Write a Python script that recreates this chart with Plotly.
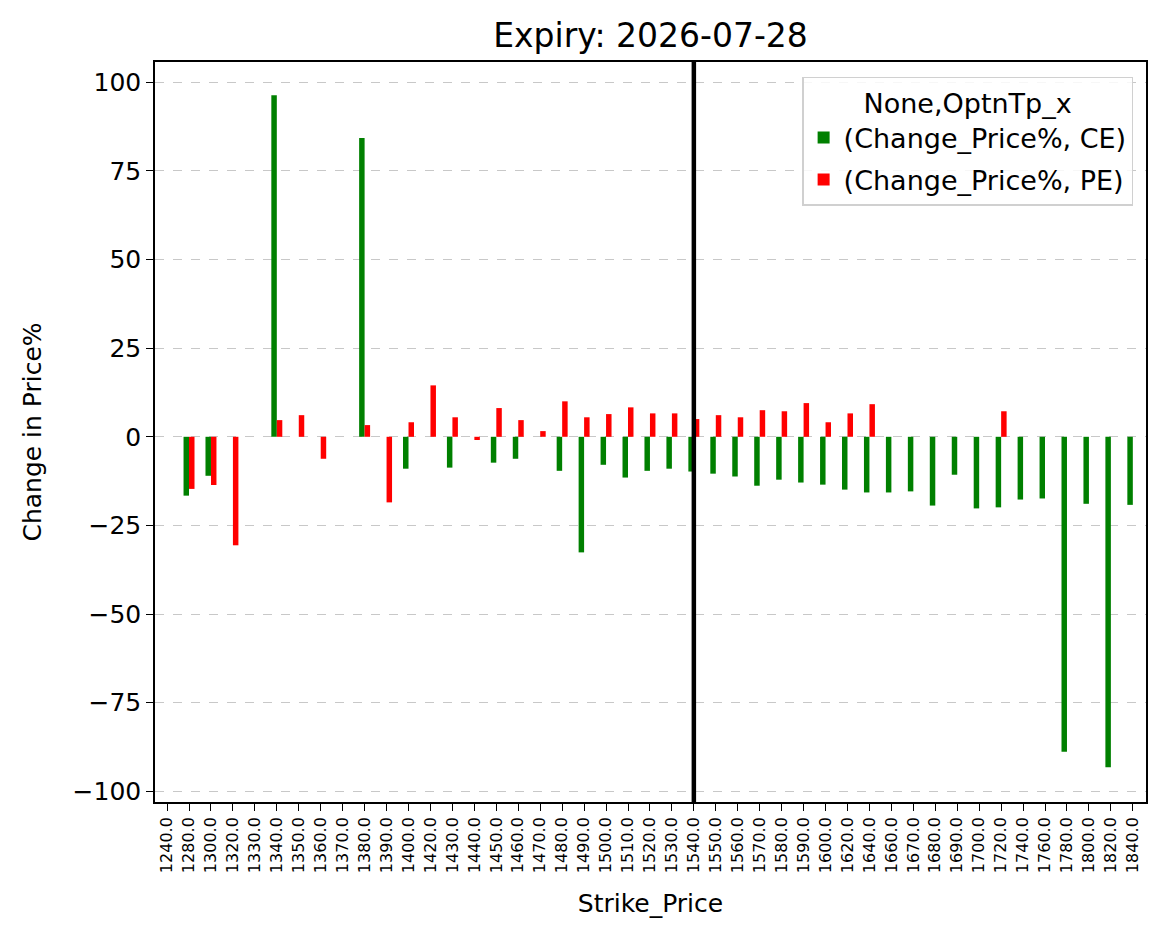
import plotly.graph_objects as go

strikes = [1240, 1280, 1300, 1320, 1330, 1340, 1350, 1360, 1370, 1380, 1390, 1400,
           1420, 1430, 1440, 1450, 1460, 1470, 1480, 1490, 1500, 1510, 1520, 1530,
           1540, 1550, 1560, 1570, 1580, 1590, 1600, 1620, 1640, 1660, 1670, 1680,
           1690, 1700, 1720, 1740, 1760, 1780, 1800, 1820, 1840]

ce_change = [None, -16.6, -11.0, None, None, 96.3, None, None, None, 84.3, None, -9.0,
             None, -8.7, None, -7.3, -6.2, None, -9.6, -32.6, -7.9, -11.5, -9.6, -9.0,
             -9.8, -10.4, -11.2, -13.8, -12.1, -12.9, -13.5, -14.9, -15.7, -15.7, -15.4, -19.4,
             -10.7, -20.2, -19.9, -17.7, -17.4, -88.8, -18.9, -93.2, -19.2]

pe_change = [None, -14.7, -13.6, -30.6, None, 4.7, 6.1, -6.2, None, 3.3, -18.5, 4.1,
             14.5, 5.5, -0.9, 8.1, 4.7, 1.6, 10.0, 5.5, 6.4, 8.3, 6.6, 6.6,
             5.0, 6.1, 5.5, 7.5, 7.2, 9.5, 4.1, 6.6, 9.2, None, None, None,
             None, None, 7.2, None, None, None, None, None, None]

spot_strike = 1540
title = "Expiry: 2026-07-28"
yticks = [-100, -75, -50, -25, 0, 25, 50, 75, 100]

cats = [f"{s:.1f}" for s in strikes]
spot_idx = strikes.index(spot_strike)
FONT = "DejaVu Sans"

fig = go.Figure()
fig.add_trace(go.Bar(x=cats, y=ce_change, name="(Change_Price%, CE)", legendgroup="ce",
                     marker=dict(color="#008000", line=dict(width=0))))
fig.add_trace(go.Bar(x=cats, y=pe_change, name="(Change_Price%, PE)", legendgroup="pe",
                     marker=dict(color="#ff0000", line=dict(width=0))))

fig.add_shape(type="line", xref="x", yref="paper",
              x0=spot_idx, x1=spot_idx, y0=0, y1=1,
              line=dict(color="black", width=4.5), layer="above")

fig.update_layout(
    width=1166, height=939,
    paper_bgcolor="white", plot_bgcolor="white",
    margin=dict(l=155, r=20, t=62, b=137),
    barmode="group", bargap=0.5, bargroupgap=0,
    font=dict(family=FONT, size=25, color="black"),
    title=dict(text=title, x=(155 + 495.5) / 1166, xanchor="center",
               y=1 - 35 / 939, yanchor="middle",
               font=dict(family=FONT, size=33, color="black")),
    legend=dict(
        title=dict(text="None,OptnTp_x", side="top center",
                   font=dict(family=FONT, size=27)),
        x=0.987, xanchor="right", y=0.98, yanchor="top",
        bgcolor="rgba(255,255,255,0.85)", bordercolor="#d0d0d0", borderwidth=1.5,
        font=dict(family=FONT, size=27), tracegroupgap=4,
    ),
    xaxis=dict(
        type="category", range=[-0.55, 44.6],
        tickangle=-90, tickfont=dict(family=FONT, size=16),
        ticks="outside", ticklen=7, tickwidth=1.3, tickcolor="black",
        showline=True, linecolor="black", linewidth=1.5, mirror=True,
        showgrid=False, zeroline=False,
        title=dict(text="Strike_Price", font=dict(family=FONT, size=25), standoff=22),
    ),
    yaxis=dict(
        range=[-103, 105.7],
        tickvals=yticks,
        ticktext=[str(v).replace("-", "\u2212") for v in yticks],
        tickfont=dict(family=FONT, size=25),
        ticks="outside", ticklen=7, tickwidth=1.3, tickcolor="black",
        showline=True, linecolor="black", linewidth=1.5, mirror=True,
        showgrid=True, gridcolor="#c8c8c8", griddash="dash", gridwidth=1.3,
        zeroline=False,
        title=dict(text="Change in Price%", font=dict(family=FONT, size=25), standoff=24),
    ),
)

fig.write_html("out.html")
